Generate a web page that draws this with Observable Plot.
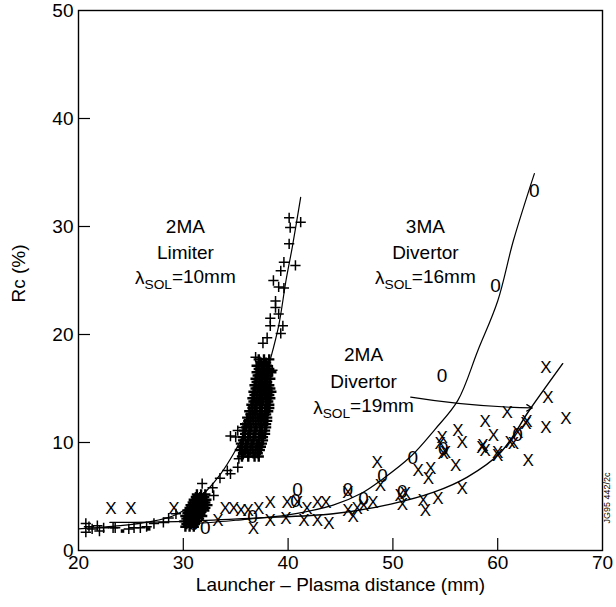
<!DOCTYPE html>
<html>
<head>
<meta charset="utf-8">
<script src="https://cdn.jsdelivr.net/npm/d3@7"></script>
<script src="https://cdn.jsdelivr.net/npm/@observablehq/plot@0.6"></script>
<style>
  html, body { margin: 0; padding: 0; background: #fff; }
  #chart svg { display: block; }
</style>
</head>
<body>
<div id="chart"></div>
<script>
// ---- Tick values ----
const xTicks = [20, 30, 40, 50, 60, 70];
const yTicks = [0, 10, 20, 30, 40, 50];
const xInnerTicks = [30, 40, 50, 60];
const yInnerTicks = [10, 20, 30, 40];

// ---- 2MA Limiter (+) measurements [x (mm), Rc (%)] ----
const limiterLow = [
  [20.7,2.5],[20.7,1.7],[21.0,2.2],[21.3,2.0],[21.8,2.3],[22.0,1.8],[22.4,2.1],[23.3,2.1],
  [23.5,2.1],[24.8,2.0],[25.3,2.1],[25.9,2.1],[26.5,2.2],[27.2,2.5],[28.1,2.6],[28.6,3.0],[29.3,3.4]
];
const limiterSquares = [[24.2,1.8],[26.7,2.0]];
const limiterBlobLow = [
  [30.2,2.2],[30.6,2.2],[31.0,2.2],
  [30.3,2.45],[30.7,2.45],[31.1,2.45],
  [30.1,2.7],[30.5,2.7],[30.9,2.7],[31.3,2.7],
  [30.3,2.95],[30.7,2.95],[31.1,2.95],[31.5,2.95],
  [30.2,3.2],[30.6,3.2],[31.0,3.2],[31.4,3.2],[31.8,3.2],
  [30.4,3.45],[30.8,3.45],[31.2,3.45],[31.6,3.45],
  [30.4,3.7],[30.8,3.7],[31.2,3.7],[31.6,3.7],[32.0,3.7],
  [30.6,3.95],[31.0,3.95],[31.4,3.95],[31.8,3.95],[32.1,3.95],
  [30.7,4.2],[31.1,4.2],[31.5,4.2],[31.9,4.2],[32.3,4.2],
  [30.9,4.45],[31.3,4.45],[31.7,4.45],[32.1,4.45],
  [31.0,4.7],[31.4,4.7],[31.8,4.7],[32.2,4.7],
  [31.2,4.95],[31.6,4.95],[32.0,4.95],
  [31.3,5.2],[31.7,5.2],[32.1,5.2]
];
const limiterMid = [
  [31.8,6.2],[32.8,5.8],[32.9,5.1],[33.5,6.7],[34.2,7.4],[34.5,7.1],[35.2,7.7],[35.3,8.5],
  [34.5,10.6],[35.0,10.5],[35.2,11.1],[35.7,11.4]
];
const limiterBlobHigh = [
  [35.6,8.7],[36.2,8.7],[36.8,8.7],[37.2,8.7],
  [35.7,9.0],[36.2,9.0],[36.7,9.0],[37.1,9.0],
  [35.4,9.3],[35.9,9.3],[36.4,9.3],[36.9,9.3],[37.3,9.3],
  [35.6,9.6],[36.1,9.6],[36.6,9.6],[37.1,9.6],[37.4,9.6],
  [35.5,9.9],[36.0,9.9],[36.5,9.9],[37.0,9.9],[37.5,9.9],
  [35.7,10.2],[36.2,10.2],[36.7,10.2],[37.2,10.2],[37.6,10.2],
  [35.7,10.5],[36.2,10.5],[36.7,10.5],[37.2,10.5],[37.6,10.5],
  [35.9,10.8],[36.4,10.8],[36.9,10.8],[37.4,10.8],[37.8,10.8],
  [35.8,11.1],[36.3,11.1],[36.8,11.1],[37.3,11.1],[37.8,11.1],
  [36.0,11.4],[36.5,11.4],[37.0,11.4],[37.5,11.4],[37.9,11.4],
  [35.9,11.7],[36.4,11.7],[36.9,11.7],[37.4,11.7],[37.9,11.7],
  [36.2,12.0],[36.7,12.0],[37.2,12.0],[37.7,12.0],[38.0,12.0],
  [36.1,12.3],[36.6,12.3],[37.1,12.3],[37.6,12.3],[38.0,12.3],
  [36.4,12.6],[36.9,12.6],[37.4,12.6],[37.9,12.6],
  [36.3,12.9],[36.8,12.9],[37.3,12.9],[37.8,12.9],[38.1,12.9],
  [36.6,13.2],[37.0,13.2],[37.5,13.2],[37.9,13.2],[38.2,13.2],
  [36.5,13.5],[36.9,13.5],[37.4,13.5],[37.9,13.5],[38.2,13.5],
  [36.7,13.8],[37.2,13.8],[37.6,13.8],[38.1,13.8],
  [36.6,14.1],[37.0,14.1],[37.5,14.1],[38.0,14.1],[38.3,14.1],
  [36.8,14.4],[37.3,14.4],[37.8,14.4],[38.2,14.4],
  [36.7,14.7],[37.1,14.7],[37.6,14.7],[38.1,14.7],[38.4,14.7],
  [36.9,15.0],[37.4,15.0],[37.9,15.0],[38.3,15.0],
  [36.8,15.3],[37.2,15.3],[37.7,15.3],[38.2,15.3],
  [37.0,15.6],[37.5,15.6],[38.0,15.6],
  [36.9,15.9],[37.3,15.9],[37.8,15.9],[38.3,15.9],
  [37.1,16.2],[37.6,16.2],[38.1,16.2],
  [37.0,16.5],[37.4,16.5],[37.9,16.5],[38.4,16.5],
  [37.2,16.8],[37.7,16.8],[38.2,16.8],
  [37.0,17.1],[37.5,17.1],[38.0,17.1],
  [37.4,17.4],[37.9,17.4],
  [37.2,17.7],[37.7,17.7],[38.2,17.7]
];
const limiterHigh = [
  [36.9,17.9],[38.5,16.7],[37.6,19.2],[38.0,19.7],[38.3,20.8],[39.3,20.1],[38.3,21.5],[39.1,21.9],
  [39.5,20.8],[38.8,22.5],[38.8,23.1],[39.6,24.3],[39.1,24.4],[38.6,25.0],[39.3,25.9],[40.7,26.4],
  [39.6,26.7],[40.1,28.4],[40.2,29.9],[41.2,30.4],[40.1,30.8]
];

// ---- 3MA Divertor (O) measurements ----
const div3MA = [
  [31.0,2.5],[32.1,2.1],[36.6,3.1],[40.7,4.6],[40.9,5.6],[45.7,5.6],[47.2,4.8],[49.0,6.9],
  [50.9,5.4],[51.9,8.6],[54.8,9.4],[61.9,10.7],[54.7,16.2],[59.8,24.5],[63.5,33.3]
];

// ---- 2MA Divertor (X) measurements ----
const div2MA = [
  [23.1,3.9],[25.0,3.9],[29.1,3.9],[33.3,2.8],[34.0,3.9],[34.8,3.9],[35.5,3.7],[36.2,3.7],
  [36.7,2.0],[37.2,3.9],[38.3,4.4],[38.3,2.8],[39.8,3.0],[39.9,4.4],[40.9,4.4],[41.5,2.8],
  [41.8,3.9],[42.8,4.4],[42.8,2.8],[43.6,4.4],[43.9,2.5],[45.7,5.4],[45.7,3.7],[46.2,3.1],
  [46.6,3.9],[47.2,4.2],[48.1,4.4],[48.5,8.1],[48.8,6.0],[50.7,5.1],[50.9,4.3],[51.2,5.3],
  [52.9,4.6],[53.1,3.7],[54.3,4.8],[52.4,7.4],[53.6,7.6],[53.4,6.7],[54.5,9.9],[54.8,9.0],
  [54.7,10.5],[55.0,9.1],[56.2,11.1],[56.6,10.0],[56.0,7.9],[56.6,5.7],[58.5,9.5],[58.6,9.7],
  [58.8,11.9],[58.8,9.3],[59.6,10.6],[60.0,8.8],[60.0,9.1],[60.9,12.8],[61.2,10.0],[61.5,9.9],
  [61.9,10.9],[62.7,11.8],[62.8,11.9],[62.9,8.3],[64.6,16.9],[64.8,14.2],[66.5,12.2],[64.6,11.4]
];

// ---- Fit curves ----
const fitLimiter = [
  [20,2.0],[24,2.3],[27,2.7],[29,3.2],[30.5,4.0],[32,5.3],[33.5,7.0],[35,9.3],[36.3,11.8],
  [37.3,14.2],[38.2,17.3],[39.1,20.8],[39.8,25.0],[40.4,28.1],[41.2,32.7]
];
const fit3MA = [
  [30,2.4],[35,2.8],[40,3.3],[44.3,4.2],[47,5.3],[49,6.6],[51.7,8.7],[54,11.2],[56.2,13.9],
  [58.1,18.5],[60,23.1],[61.5,28.7],[63.5,34.9]
];
const fit2MA = [
  [23,2.6],[30,2.7],[36.7,3.0],[44.3,3.4],[49.8,4.3],[53.9,5.4],[57.1,6.8],[60.3,9.1],[63.1,13.1],[66.2,17.3]
];

// ---- Annotations ----
const labelText = ["2MA","Limiter","λSOL=10mm","3MA","Divertor","λSOL=16mm","2MA","Divertor","λSOL=19mm"];
const labelX = [30.2,30.2,30.2,53.1,53.1,53.1,47.2,47.2,47.2];
const labelY = [30.0,27.6,25.2,30.0,27.6,25.2,18.1,15.6,13.2];
const arrowFrom = [51.7, 14.2];
const arrowTo = [63.3, 13.2];

const labels = labelText.map((t, i) => ({t, x: labelX[i], y: labelY[i]}));
const limiterPlus = [...limiterLow, ...limiterMid, ...limiterHigh];
const limiterBlobs = [...limiterBlobLow, ...limiterBlobHigh];

const font = "'Liberation Sans', Arial, Helvetica, sans-serif";

const chart = Plot.plot({
  width: 616,
  height: 607,
  marginLeft: 78,
  marginRight: 14,
  marginTop: 10,
  marginBottom: 57,
  style: {background: "#fff", color: "#000", fontFamily: font},
  x: {domain: [20, 70]},
  y: {domain: [0, 50]},
  marks: [
    Plot.frame({stroke: "#000", strokeWidth: 1.4}),
    Plot.axisX({ticks: xTicks, tickSize: 0, tickPadding: 5, fontSize: 19, label: null}),
    Plot.axisX({ticks: xInnerTicks, tickSize: -12, fill: "none", label: null, strokeWidth: 1.2}),
    Plot.axisY({ticks: yTicks, tickSize: 0, tickPadding: 5, fontSize: 19, label: null}),
    Plot.axisY({ticks: yInnerTicks, tickSize: -12, fill: "none", label: null, strokeWidth: 1.2}),
    Plot.line(fitLimiter, {x: d => d[0], y: d => d[1], curve: "catmull-rom", stroke: "#000", strokeWidth: 1.2}),
    Plot.line(fit3MA, {x: d => d[0], y: d => d[1], curve: "catmull-rom", stroke: "#000", strokeWidth: 1.2}),
    Plot.line(fit2MA, {x: d => d[0], y: d => d[1], curve: "catmull-rom", stroke: "#000", strokeWidth: 1.4}),
    Plot.dot(limiterPlus, {x: d => d[0], y: d => d[1], symbol: "plus", r: 3.4, stroke: "#000", strokeWidth: 1.5}),
    Plot.dot(limiterBlobs, {x: d => d[0], y: d => d[1], symbol: "plus", r: 3.4, stroke: "#000", strokeWidth: 2.4}),
    Plot.dot(limiterSquares, {x: d => d[0], y: d => d[1], symbol: "square", r: 2, fill: "#000"}),
    Plot.text(div2MA, {x: d => d[0], y: d => d[1], text: () => "X", fontSize: 17, fill: "#000"}),
    Plot.text(div3MA, {x: d => d[0], y: d => d[1], text: () => "0", fontSize: 19, fill: "#000"}),
    Plot.arrow([{x1: arrowFrom[0], y1: arrowFrom[1], x2: arrowTo[0], y2: arrowTo[1]}],
      {x1: "x1", y1: "y1", x2: "x2", y2: "y2", bend: -4, headLength: 8, stroke: "#000", strokeWidth: 1.2}),
    Plot.text(labels, {x: "x", y: "y", text: "t", fontSize: 19, fill: "#000"}),
    Plot.text(["Launcher – Plasma distance (mm)"], {frameAnchor: "bottom", dy: 40, fontSize: 19, fill: "#000"}),
    Plot.text(["Rc (%)"], {frameAnchor: "left", dx: -60, dy: 22, rotate: -90, fontSize: 19, fill: "#000"}),
    Plot.text(["JG95 442/2c"], {frameAnchor: "bottom-right", dx: 7, dy: -78, rotate: -90, fontSize: 9, fill: "#000"})
  ]
});

// subscript "SOL"
d3.select(chart).selectAll("text").each(function() {
  const s = this.textContent;
  const m = /^λSOL(=.*)$/.exec(s);
  if (m && this.children.length === 0) {
    const t = d3.select(this);
    t.text(null);
    t.append("tspan").text("λ");
    t.append("tspan").attr("font-size", "0.72em").attr("dy", "0.3em").text("SOL");
    t.append("tspan").attr("dy", "-0.3em").text(m[1]);
  }
});

document.getElementById("chart").appendChild(chart);
</script>
</body>
</html>
